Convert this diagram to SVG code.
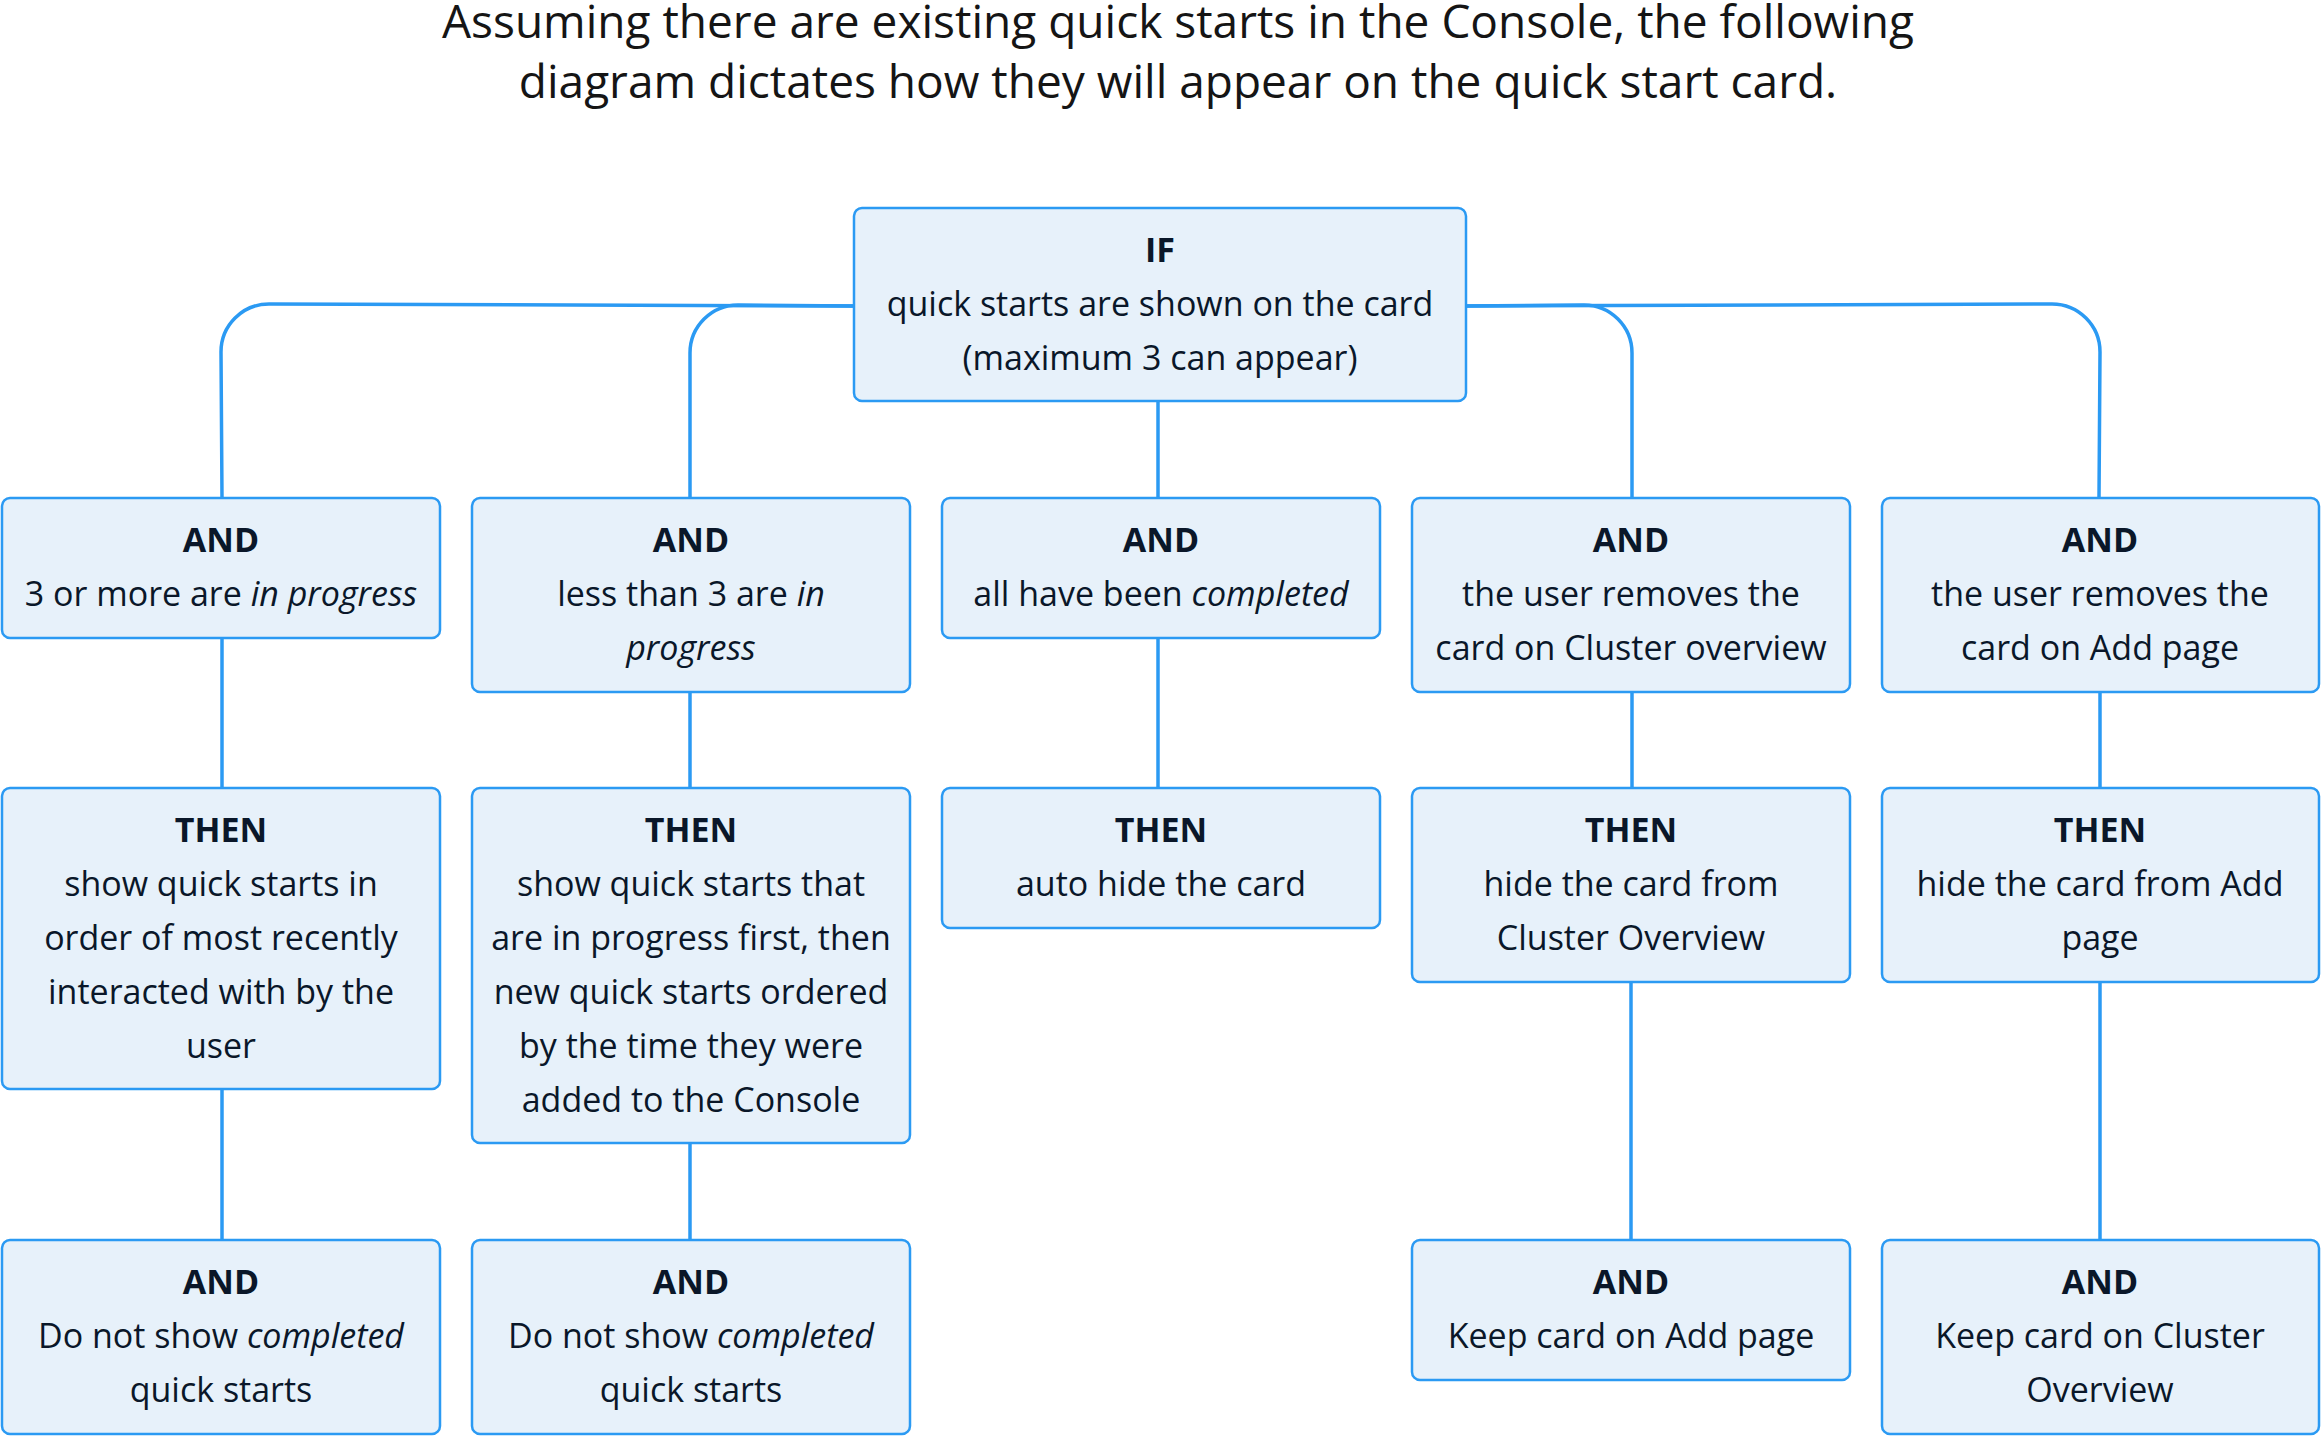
<svg xmlns="http://www.w3.org/2000/svg" width="2322" height="1436" viewBox="0 0 2322 1436">
<style>
.title{font-family:"Open Sans","Liberation Sans",sans-serif;font-size:46px;fill:#151515;text-anchor:middle}
.box{fill:#e7f1fa;stroke:#2b9af3;stroke-width:2.5}
.t{font-family:"Open Sans","Liberation Sans",sans-serif;font-size:34px;fill:#0a1729;text-anchor:middle}
.b{font-weight:bold}
.i{font-style:italic}
.c{fill:none;stroke:#2b9af3;stroke-width:3.5}
</style>
<rect width="2322" height="1436" fill="#ffffff"/>
<g id="title">
<text class="title" x="1178" y="38">Assuming there are existing quick starts in the Console, the following</text>
<text class="title" x="1178" y="98">diagram dictates how they will appear on the quick start card.</text>
</g>
<g id="connectors">
<path class="c" d="M854,306 L269,304 A48,48 0 0 0 221,352 L222,497"/>
<path class="c" d="M854,306 L738,305 A48,48 0 0 0 690,353 L690,497"/>
<path class="c" d="M1466,306 L1584,305 A48,48 0 0 1 1632,353 L1632,497"/>
<path class="c" d="M1466,306 L2052,304 A48,48 0 0 1 2100,352 L2099,497"/>
<path class="c" d="M1158,401 L1158,497"/>
<path class="c" d="M222,637 L222,788"/>
<path class="c" d="M690,691 L690,788"/>
<path class="c" d="M1158,637 L1158,788"/>
<path class="c" d="M1632,691 L1632,788"/>
<path class="c" d="M2100,691 L2100,788"/>
<path class="c" d="M222,1089 L222,1240"/>
<path class="c" d="M690,1143 L690,1240"/>
<path class="c" d="M1631,983 L1631,1240"/>
<path class="c" d="M2100,983 L2100,1240"/>
</g>
<g id="if">
<rect class="box" x="854" y="208" width="612" height="193" rx="8"/>
<text class="t b" x="1160" y="262">IF</text>
<text class="t" x="1160" y="316">quick starts are shown on the card</text>
<text class="t" x="1160" y="370">(maximum 3 can appear)</text>
</g>
<g id="and1">
<rect class="box" x="2" y="498" width="438" height="140" rx="8"/>
<text class="t b" x="221" y="552">AND</text>
<text class="t" x="221" y="606">3 or more are <tspan class="i">in progress</tspan></text>
</g>
<g id="and2">
<rect class="box" x="472" y="498" width="438" height="194" rx="8"/>
<text class="t b" x="691" y="552">AND</text>
<text class="t" x="691" y="606">less than 3 are <tspan class="i">in</tspan></text>
<text class="t i" x="691" y="660">progress</text>
</g>
<g id="and3">
<rect class="box" x="942" y="498" width="438" height="140" rx="8"/>
<text class="t b" x="1161" y="552">AND</text>
<text class="t" x="1161" y="606">all have been <tspan class="i">completed</tspan></text>
</g>
<g id="and4">
<rect class="box" x="1412" y="498" width="438" height="194" rx="8"/>
<text class="t b" x="1631" y="552">AND</text>
<text class="t" x="1631" y="606">the user removes the</text>
<text class="t" x="1631" y="660">card on Cluster overview</text>
</g>
<g id="and5">
<rect class="box" x="1882" y="498" width="437" height="194" rx="8"/>
<text class="t b" x="2100" y="552">AND</text>
<text class="t" x="2100" y="606">the user removes the</text>
<text class="t" x="2100" y="660">card on Add page</text>
</g>
<g id="then1">
<rect class="box" x="2" y="788" width="438" height="301" rx="8"/>
<text class="t b" x="221" y="842">THEN</text>
<text class="t" x="221" y="896">show quick starts in</text>
<text class="t" x="221" y="950">order of most recently</text>
<text class="t" x="221" y="1004">interacted with by the</text>
<text class="t" x="221" y="1058">user</text>
</g>
<g id="then2">
<rect class="box" x="472" y="788" width="438" height="355" rx="8"/>
<text class="t b" x="691" y="842">THEN</text>
<text class="t" x="691" y="896">show quick starts that</text>
<text class="t" x="691" y="950">are in progress first, then</text>
<text class="t" x="691" y="1004">new quick starts ordered</text>
<text class="t" x="691" y="1058">by the time they were</text>
<text class="t" x="691" y="1112">added to the Console</text>
</g>
<g id="then3">
<rect class="box" x="942" y="788" width="438" height="140" rx="8"/>
<text class="t b" x="1161" y="842">THEN</text>
<text class="t" x="1161" y="896">auto hide the card</text>
</g>
<g id="then4">
<rect class="box" x="1412" y="788" width="438" height="194" rx="8"/>
<text class="t b" x="1631" y="842">THEN</text>
<text class="t" x="1631" y="896">hide the card from</text>
<text class="t" x="1631" y="950">Cluster Overview</text>
</g>
<g id="then5">
<rect class="box" x="1882" y="788" width="437" height="194" rx="8"/>
<text class="t b" x="2100" y="842">THEN</text>
<text class="t" x="2100" y="896">hide the card from Add</text>
<text class="t" x="2100" y="950">page</text>
</g>
<g id="and6">
<rect class="box" x="2" y="1240" width="438" height="194" rx="8"/>
<text class="t b" x="221" y="1294">AND</text>
<text class="t" x="221" y="1348">Do not show <tspan class="i">completed</tspan></text>
<text class="t" x="221" y="1402">quick starts</text>
</g>
<g id="and7">
<rect class="box" x="472" y="1240" width="438" height="194" rx="8"/>
<text class="t b" x="691" y="1294">AND</text>
<text class="t" x="691" y="1348">Do not show <tspan class="i">completed</tspan></text>
<text class="t" x="691" y="1402">quick starts</text>
</g>
<g id="and8">
<rect class="box" x="1412" y="1240" width="438" height="140" rx="8"/>
<text class="t b" x="1631" y="1294">AND</text>
<text class="t" x="1631" y="1348">Keep card on Add page</text>
</g>
<g id="and9">
<rect class="box" x="1882" y="1240" width="437" height="194" rx="8"/>
<text class="t b" x="2100" y="1294">AND</text>
<text class="t" x="2100" y="1348">Keep card on Cluster</text>
<text class="t" x="2100" y="1402">Overview</text>
</g>
</svg>
